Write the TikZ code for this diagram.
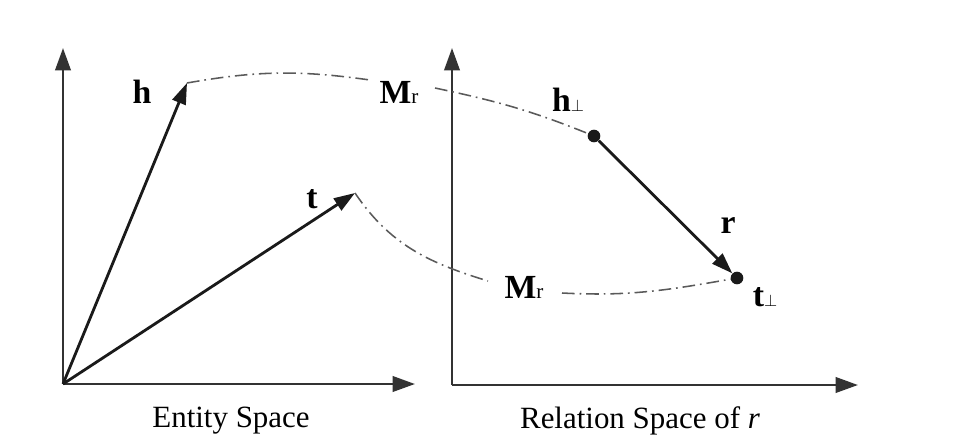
\documentclass[tikz,border=0pt]{standalone}
\usepackage{fontspec}
\setmainfont{Liberation Serif}
\usetikzlibrary{arrows.meta, positioning}
\definecolor{axisGray}{HTML}{333333}
\definecolor{vecDark}{HTML}{1A1A1A}
\definecolor{mapGray}{HTML}{5A5A5A}
\tikzset{
  axisArrow/.style={-{Triangle[length=16pt,width=11pt]}, axisGray, line width=1.9pt},
  vecArrow/.style={-{Triangle[length=15pt,width=10pt]}, vecDark, line width=2pt},
  mapLine/.style={mapGray, line width=1.1pt, dash pattern=on 9pt off 3.5pt on 1.2pt off 3.5pt},
  vecLabel/.style={font=\fontsize{24}{28}\selectfont\bfseries, inner sep=0pt},
  capLabel/.style={font=\fontsize{22}{26}\selectfont, inner sep=0pt},
  projDot/.style={circle, fill=vecDark, inner sep=0pt, minimum size=9pt},
}
\newcommand{\subr}{{\fontsize{15}{15}\selectfont\mdseries r}}
\newcommand{\perpsub}{{\fontsize{13}{13}\selectfont\mdseries$\perp$}}

\begin{document}
\begin{tikzpicture}[x=0.025cm, y=0.025cm]
  \useasboundingbox (0,0) rectangle (964,442);
  % entity space
  \coordinate (o1) at (63,58);
  \coordinate (y1) at (63,394);
  \coordinate (x1) at (415,58);
  \coordinate (htip) at (187,359);
  \coordinate (ttip) at (355,249);
  \draw[axisArrow] (o1) -- (y1);
  \draw[axisArrow] (o1) -- (x1);
  \draw[vecArrow] (o1) -- (htip);
  \draw[vecArrow] (o1) -- (ttip);
  \node[vecLabel] (hlab) at (142,350) {h};
  \node[vecLabel] (tlab) at (312,243) {t};
  \node[capLabel] (entcap) at (231,21) {Entity Space};

  % relation space
  \coordinate (o2) at (452,57);
  \coordinate (y2) at (452,394);
  \coordinate (x2) at (858,57);
  \draw[axisArrow] (o2) -- (y2);
  \draw[axisArrow] (o2) -- (x2);
  \node[projDot] (hp) at (594,306) {};
  \node[projDot] (tp) at (737,164) {};
  \draw[vecArrow] (hp) -- (tp);
  \node[vecLabel] (hplab) at (568,342) {h\perpsub};
  \node[vecLabel] (tplab) at (765,145) {t\perpsub};
  \node[vecLabel] (rlab) at (728,216) {r};
  \node[capLabel] (relcap) at (640,21) {Relation Space of \textit{r}};

  % projections M_r
  \node[vecLabel] (mr1) at (399,350) {M\subr};
  \node[vecLabel] (mr2) at (524,155) {M\subr};
  \coordinate (m1a) at (370,362);
  \coordinate (m1b) at (435,354);
  \coordinate (m2a) at (488,161);
  \coordinate (m2b) at (562,149);
  \draw[mapLine] (htip) to[out=10,in=172] (m1a);
  \draw[mapLine] (m1b) to[out=-12,in=158] (hp);
  \draw[mapLine] (ttip) to[out=-56,in=163] (m2a);
  \draw[mapLine] (m2b) to[out=-3,in=190] (tp);
\end{tikzpicture}
\end{document}
